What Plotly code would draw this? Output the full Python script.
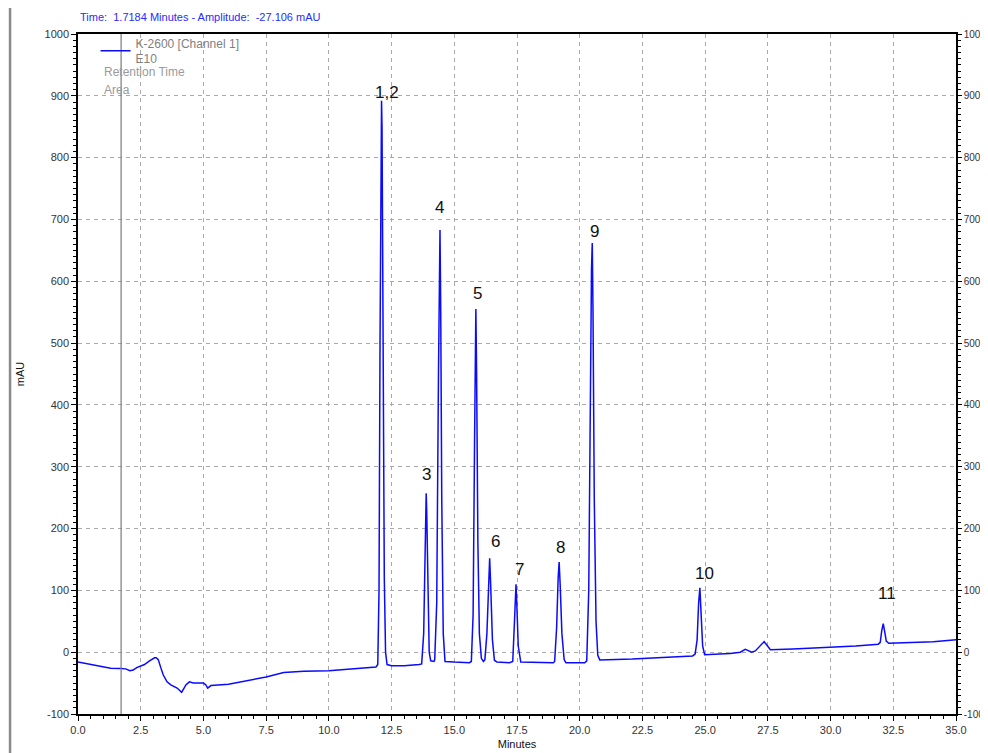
import plotly.graph_objects as go

# ---- Chromatogram trace (time in minutes, amplitude in mAU) ----
time_min = [
    0.0, 0.5, 0.9, 1.3, 1.7, 1.9, 2.07, 2.2, 2.34, 2.5, 2.65, 2.85, 3.05, 3.12, 3.2, 3.3,
    3.4, 3.55, 3.7, 3.95, 4.13, 4.2, 4.3, 4.44, 4.6, 5.0, 5.1, 5.17, 5.3, 6.0, 7.0, 7.5,
    8.2, 9.0, 10.0, 11.0, 11.88,
    11.95, 12.0, 12.04, 12.07, 12.10, 12.12, 12.16, 12.21, 12.26, 12.32,
    12.5, 13.0, 13.6,
    13.70, 13.78, 13.84, 13.88, 13.90, 13.94, 14.0, 14.06, 14.12, 14.19,
    14.22, 14.3, 14.37, 14.41, 14.43, 14.46, 14.5, 14.56, 14.63,
    15.0, 15.6,
    15.68, 15.75, 15.81, 15.85, 15.86, 15.89, 15.94, 16.0, 16.08, 16.16,
    16.22, 16.3, 16.37, 16.41, 16.45, 16.52, 16.6, 16.7,
    17.2,
    17.33, 17.4, 17.44, 17.46, 17.49, 17.55, 17.65,
    18.5, 18.95,
    19.0, 19.08, 19.14, 19.18, 19.22, 19.29, 19.38, 19.45,
    20.2,
    20.28, 20.36, 20.42, 20.47, 20.50, 20.53, 20.58, 20.65, 20.72, 20.8,
    22.1, 23.5, 24.5,
    24.6, 24.68, 24.74, 24.79, 24.83, 24.9, 24.98,
    26.0, 26.4, 26.6, 26.7, 26.85, 27.0, 27.2, 27.35, 27.45, 27.6, 28.5, 29.97, 31.0, 31.9,
    31.98, 32.04, 32.10, 32.15, 32.22, 32.32,
    33.0, 34.1, 35.0,
]
amplitude_mau = [
    -16, -20, -23, -26, -26.5, -27, -30, -29, -25, -23, -20, -14, -9, -9, -12, -25,
    -37, -48, -53, -58, -65, -60, -53, -48, -50, -50, -53, -58, -54, -52, -44, -40,
    -33, -31, -30, -27, -24,
    -20, 100, 500, 847, 892, 847, 500, 120, 0, -20,
    -22, -22, -20,
    -19, 30, 180, 257, 230, 120, 0, -14, -15, -15,
    -12, 80, 450, 660, 683, 550, 250, 30, -15,
    -16, -17,
    -15, 60, 350, 520, 555, 450, 180, 30, -10, -15,
    -12, 30, 120, 152, 110, 20, -13, -16,
    -17,
    -15, 50, 100, 110, 80, 10, -16,
    -17, -17,
    -15, 40, 120, 146, 110, 30, -12, -17,
    -17,
    -14, 100, 420, 620, 662, 550, 250, 50, -5, -12.5,
    -11, -8, -6,
    -3, 20, 80, 104, 70, 10, -4,
    -2, 0, 4.5, 3, 0, 2, 10, 17, 12, 4, 5, 7.5, 10, 13,
    16, 35, 46, 35, 18, 14.5,
    15, 17, 20,
]

# ---- Peak labels ----
peak_labels = ["1,2", "3", "4", "5", "6", "7", "8", "9", "10", "11"]
peak_rt = [12.10, 13.88, 14.43, 15.86, 16.41, 17.46, 19.18, 20.50, 24.79, 32.10]
peak_height = [892, 257, 683, 555, 152, 110, 146, 662, 104, 46]
# label offsets from the apex (pixels)
label_dy = [8, 19, 22, 16, 17, 15, 14, 11, 14, 30]
label_dx = [5, 0, 0, 2, 6, 3, 1, 2, 5, 4]

# ---- Cursor / header ----
cursor_time = 1.7184
cursor_amplitude = -27.106

x_ticks = [i * 2.5 for i in range(15)]
y_ticks = list(range(-100, 1001, 100))
y_ticktext = [str(v) for v in y_ticks]

trace_color = "#0a0aff"
FONT = "Liberation Sans, Arial, sans-serif"

fig = go.Figure()
fig.add_trace(go.Scatter(
    x=time_min, y=amplitude_mau, mode="lines",
    line=dict(color=trace_color, width=1.5),
    name="K-2600 [Channel 1]<br>E10",
    hoverinfo="skip",
))
# invisible copy on the right axis so that it is drawn
fig.add_trace(go.Scatter(
    x=time_min, y=amplitude_mau, mode="lines", yaxis="y2",
    line=dict(color="rgba(0,0,0,0)", width=0), showlegend=False, hoverinfo="skip",
))

for lab, rt, h, dy, dx in zip(peak_labels, peak_rt, peak_height, label_dy, label_dx):
    fig.add_annotation(x=rt, y=h, text=lab, showarrow=False, xanchor="center",
                       yanchor="middle", yshift=dy, xshift=dx,
                       font=dict(family=FONT, size=17, color="#111111"))

# cursor line
fig.add_shape(type="line", x0=cursor_time, x1=cursor_time, y0=-100, y1=1000,
              xref="x", yref="y", line=dict(color="#7a7a7a", width=1.2))

# window border bar on the left
fig.add_shape(type="line", x0=-0.0774, x1=-0.0774, y0=-0.06, y1=1.06,
              xref="paper", yref="paper", line=dict(color="#8a8a8a", width=2.5))

fig.add_annotation(
    xref="paper", yref="paper", x=0.0, y=1.0254, xanchor="left", yanchor="middle",
    text=f"Time:  {cursor_time:.4f} Minutes - Amplitude:  {cursor_amplitude:.3f} mAU",
    showarrow=False, font=dict(family=FONT, size=11, color="#2a2aff"))

fig.add_annotation(xref="paper", yref="paper", x=0.0273, y=0.9446, xanchor="left",
                   yanchor="middle", text="Retention Time", showarrow=False,
                   font=dict(family=FONT, size=12, color="#9a9a9a"))
fig.add_annotation(xref="paper", yref="paper", x=0.0273, y=0.918, xanchor="left",
                   yanchor="middle", text="Area", showarrow=False,
                   font=dict(family=FONT, size=12, color="#9a9a9a"))

grid = dict(gridcolor="#a8a8a8", griddash="4px,4px", gridwidth=1)

fig.update_layout(
    width=980, height=745,
    margin=dict(l=70, r=32, t=26, b=39, autoexpand=False),
    paper_bgcolor="white", plot_bgcolor="white",
    font=dict(family=FONT, size=11, color="#222222"),
    showlegend=True,
    legend=dict(x=0.020, y=1.008, xanchor="left", yanchor="top",
                bgcolor="rgba(0,0,0,0)", font=dict(family=FONT, size=12, color="#808080"),
                itemwidth=30, tracegroupgap=0),
    xaxis=dict(
        range=[0, 35], tickvals=x_ticks, tickformat=".1f", automargin=False,
        showline=True, linecolor="black", linewidth=1.5, mirror=True,
        ticks="outside", ticklen=5, tickcolor="black",
        minor=dict(dtick=0.5, ticks="outside", ticklen=3, tickcolor="black", showgrid=False),
        zeroline=False, showgrid=True, **grid,
        title=dict(text="Minutes", font=dict(family=FONT, size=11, color="#111111"), standoff=5),
        tickfont=dict(family=FONT, size=11, color="#333333"),
    ),
    yaxis=dict(
        range=[-100, 1000], tickvals=y_ticks, ticktext=y_ticktext, automargin=False,
        showline=True, linecolor="black", linewidth=1.5,
        ticks="outside", ticklen=5, tickcolor="black",
        minor=dict(dtick=10, ticks="outside", ticklen=3, tickcolor="black", showgrid=False),
        zeroline=False, showgrid=True, **grid,
        title=dict(text="mAU", font=dict(family=FONT, size=11, color="#111111"), standoff=18),
        tickfont=dict(family=FONT, size=11, color="#333333"),
    ),
    yaxis2=dict(
        range=[-100, 1000], tickvals=y_ticks, ticktext=y_ticktext, overlaying="y",
        side="right", automargin=False,
        showline=True, linecolor="black", linewidth=1.5,
        ticks="outside", ticklen=4, tickcolor="black",
        minor=dict(dtick=10, ticks="outside", ticklen=3, tickcolor="black"),
        zeroline=False, showgrid=False,
        tickfont=dict(family=FONT, size=10, color="#333333"),
    ),
)

fig.write_html("out.html")
